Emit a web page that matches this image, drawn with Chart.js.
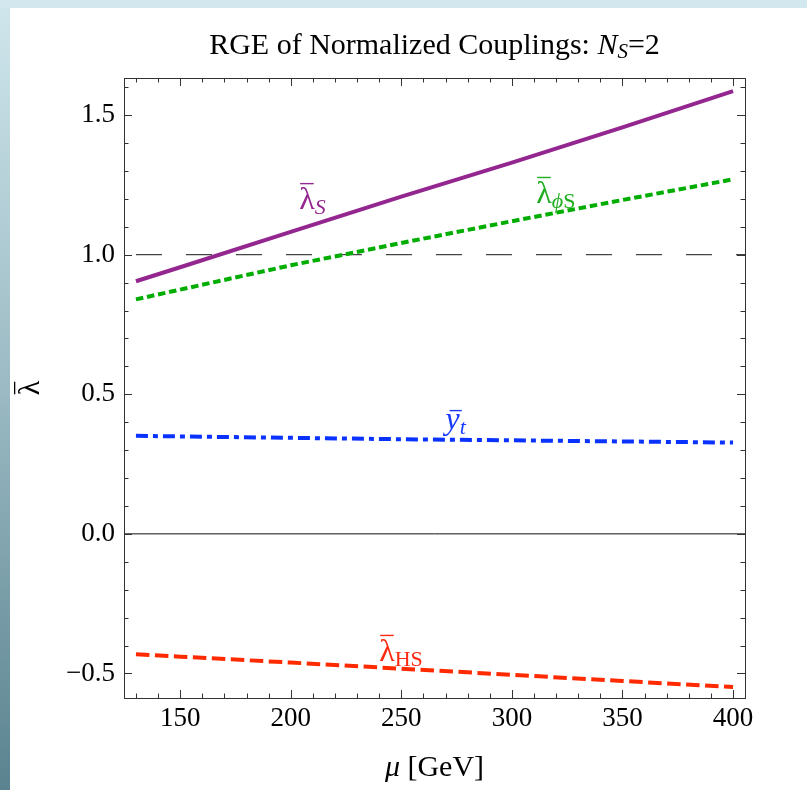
<!DOCTYPE html>
<html><head><meta charset="utf-8">
<script src="https://cdn.jsdelivr.net/npm/chart.js@4/dist/chart.umd.min.js"></script>
<style>
html,body{margin:0;padding:0;}
body{width:807px;height:790px;position:relative;overflow:hidden;background:linear-gradient(#d0e6ed 0%,#9ab9c2 50%,#5a838f 100%);}
#topstrip{position:absolute;left:0;top:0;width:807px;height:8px;background:#d3e8ee;}
#panel{position:absolute;left:10px;top:8px;right:0;bottom:0;background:#fff;}
canvas{position:absolute;left:0;top:0;}
</style></head>
<body>
<div id="topstrip"></div><div id="panel"></div>
<canvas id="c" width="807" height="790"></canvas>
<script>
// ---- data ----
const muValues   = [130, 150, 200, 250, 300, 350, 400];
const lambdaS    = [0.905, 0.955, 1.082, 1.208, 1.330, 1.456, 1.586];
const lambdaPhiS = [0.840, 0.875, 0.962, 1.042, 1.120, 1.196, 1.270];
const yTop       = [0.351, 0.349, 0.344, 0.339, 0.335, 0.331, 0.327];
const lambdaHS   = [-0.431, -0.440, -0.461, -0.483, -0.505, -0.527, -0.549];
const refOne     = [1.0, 1.0];
const refZero    = [0.0, 0.0];

const xTickValues = [150, 200, 250, 300, 350, 400];
const xTickLabels = ['150', '200', '250', '300', '350', '400'];
const yTickValues = [-0.5, 0.0, 0.5, 1.0, 1.5];
const yTickLabels = ['\u22120.5', '0.0', '0.5', '1.0', '1.5'];
const xRange = [124.6, 405.4];
const yRange = [-0.588, 1.633];

const SERIF = '"Liberation Serif", "DejaVu Serif", serif';

const pts = (xs, ys) => xs.map((x, i) => ({x: x, y: ys[i]}));

// curve labels: anchor (mu, value) of the main glyph's baseline-left
const curveLabels = [
  {mu: 203.8, val: 1.164, main: '\u03BB', mainItalic: false, sub: [{t: 'S', i: true}], color: '#93268f'},
  {mu: 311.0, val: 1.186, main: '\u03BB', mainItalic: false, sub: [{t: '\u03D5', i: true}, {t: 'S', i: false}], color: '#1fae1f'},
  {mu: 270.0, val: 0.376, main: 'y', mainItalic: true, sub: [{t: 't', i: true}], color: '#1a3cff'},
  {mu: 240.0, val: -0.4545, main: '\u03BB', mainItalic: false, sub: [{t: 'HS', i: false}], color: '#ff2a10'}
];

function font(size, italic) { return (italic ? 'italic ' : '') + size + 'px ' + SERIF; }

function drawRuns(ctx, runs, x, y) {
  let cx = x;
  runs.forEach(r => {
    ctx.font = font(r.size, r.italic);
    ctx.fillText(r.text, cx, y + (r.dy || 0));
    cx += ctx.measureText(r.text).width;
  });
  return cx - x;
}
function runsWidth(ctx, runs) {
  let w = 0;
  runs.forEach(r => { ctx.font = font(r.size, r.italic); w += ctx.measureText(r.text).width; });
  return w;
}

const framePlugin = {
  id: 'frame',
  afterDatasetsDraw(chart) {
    const ctx = chart.ctx, a = chart.chartArea;
    const xs = chart.scales.x, ys = chart.scales.y;
    ctx.save();
    ctx.strokeStyle = '#333';
    ctx.lineWidth = 1;
    ctx.strokeRect(Math.round(a.left) + 0.5, Math.round(a.top) + 0.5, Math.round(a.right - a.left), Math.round(a.bottom - a.top));
    const MAJ = 8, MIN = 4.5;
    ctx.beginPath();
    for (let v = 130; v <= 400; v += 10) {
      const px = Math.round(xs.getPixelForValue(v)) + 0.5;
      const L = xTickValues.includes(v) ? MAJ : MIN;
      ctx.moveTo(px, a.bottom); ctx.lineTo(px, a.bottom - L);
      ctx.moveTo(px, a.top); ctx.lineTo(px, a.top + L);
    }
    for (let k = -5; k <= 16; k++) {
      const v = k / 10;
      const py = Math.round(ys.getPixelForValue(v)) + 0.5;
      const L = (k % 5 === 0) ? MAJ : MIN;
      ctx.moveTo(a.left, py); ctx.lineTo(a.left + L, py);
      ctx.moveTo(a.right, py); ctx.lineTo(a.right - L, py);
    }
    ctx.stroke();
    ctx.restore();
  },
  afterDraw(chart) {
    const ctx = chart.ctx, a = chart.chartArea;
    const xs = chart.scales.x, ys = chart.scales.y;
    const cx = (a.left + a.right) / 2;
    ctx.save();
    ctx.fillStyle = '#000';
    ctx.textBaseline = 'alphabetic';
    // title
    const title = [
      {text: 'RGE of Normalized Couplings: ', size: 30},
      {text: 'N', size: 30, italic: true},
      {text: 'S', size: 21, italic: true, dy: 4},
      {text: '=2', size: 30}
    ];
    drawRuns(ctx, title, cx - runsWidth(ctx, title) / 2, 54);
    // x axis title
    const xt = [{text: '\u03BC', size: 30, italic: true}, {text: ' [GeV]', size: 30}];
    drawRuns(ctx, xt, cx - runsWidth(ctx, xt) / 2, 776);
    // y axis title (rotated lambda with bar)
    ctx.save();
    ctx.translate(39, 388);
    ctx.rotate(-Math.PI / 2);
    ctx.font = font(30, false);
    const lw = ctx.measureText('\u03BB').width;
    ctx.fillText('\u03BB', -lw / 2, 0);
    ctx.fillRect(-lw / 2 + 1, -25, lw - 2, 1.3);
    ctx.restore();
    // curve labels
    curveLabels.forEach(l => {
      const px = xs.getPixelForValue(l.mu), py = ys.getPixelForValue(l.val);
      ctx.fillStyle = l.color;
      ctx.font = font(32, l.mainItalic);
      const mw = ctx.measureText(l.main).width;
      ctx.fillText(l.main, px, py);
      const barY = l.main === 'y' ? py - 19 : py - 26;
      const bx = l.mainItalic ? px + 4 : px + 1;
      ctx.fillRect(bx, barY, mw - 2, 1.4);
      let sx = px + mw;
      l.sub.forEach(s => {
        ctx.font = font(22, s.i);
        ctx.fillText(s.t, sx, py + 5);
        sx += ctx.measureText(s.t).width;
      });
    });
    ctx.restore();
  }
};

new Chart(document.getElementById('c'), {
  type: 'line',
  data: {
    datasets: [
      {data: pts(muValues, lambdaS), borderColor: '#93268f', borderWidth: 4},
      {data: pts(muValues, lambdaPhiS), borderColor: '#00ad00', borderWidth: 4, borderDash: [7.5, 3.8]},
      {data: pts(muValues, yTop), borderColor: '#0a32ff', borderWidth: 4, borderDash: [12, 5, 5, 5]},
      {data: pts(muValues, lambdaHS), borderColor: '#ff2a00', borderWidth: 4, borderDash: [13.5, 5.5]},
      {data: pts([130, xRange[1]], refOne), borderColor: '#444', borderWidth: 1.2, borderDash: [26, 24]},
      {data: pts(xRange, refZero), borderColor: '#111', borderWidth: 1}
    ]
  },
  options: {
    responsive: false,
    animation: false,
    events: [],
    layout: {padding: {top: 78, right: 62, left: 0, bottom: 0}},
    plugins: {legend: {display: false}, tooltip: {enabled: false}, title: {display: false}},
    elements: {point: {radius: 0}, line: {tension: 0, borderCapStyle: 'butt'}},
    scales: {
      x: {
        type: 'linear', min: xRange[0], max: xRange[1],
        afterBuildTicks: s => { s.ticks = xTickValues.map(v => ({value: v})); },
        afterFit: s => { s.height = 92; },
        grid: {display: false, drawTicks: false}, border: {display: false},
        ticks: {color: '#000', padding: 5, font: {family: SERIF, size: 27},
                callback: v => xTickLabels[xTickValues.indexOf(v)], maxRotation: 0, autoSkip: false}
      },
      y: {
        type: 'linear', min: yRange[0], max: yRange[1],
        afterBuildTicks: s => { s.ticks = yTickValues.map(v => ({value: v})); },
        afterFit: s => { s.width = 124; },
        grid: {display: false, drawTicks: false}, border: {display: false},
        ticks: {color: '#000', padding: 9, font: {family: SERIF, size: 27},
                callback: v => yTickLabels[yTickValues.indexOf(v)], autoSkip: false}
      }
    }
  },
  plugins: [framePlugin]
});
</script>
</body></html>
